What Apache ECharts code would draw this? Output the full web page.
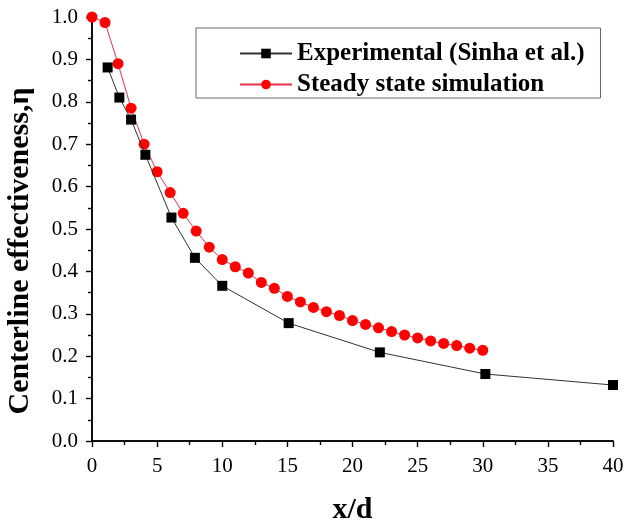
<!DOCTYPE html>
<html>
<head>
<meta charset="utf-8">
<script src="https://cdn.jsdelivr.net/npm/echarts@6/dist/echarts.min.js"></script>
<style>
  html, body { margin: 0; padding: 0; background: #fff; }
  #chart { width: 628px; height: 527px; }
</style>
</head>
<body>
<div id="chart"></div>
<script>
// Experimental data (Sinha et al.)
const expX = [1.2, 2.1, 3.0, 4.1, 6.1, 7.9, 10.0, 15.1, 22.1, 30.2, 40]
const expY = [0.881, 0.810, 0.758, 0.675, 0.527, 0.432, 0.366, 0.278, 0.209, 0.158, 0.132]

// Steady state simulation
const simX = [0, 1, 2, 3, 4, 5, 6, 7, 8, 9, 10, 11, 12, 13, 14, 15, 16, 17, 18, 19, 20, 21, 22, 23, 24, 25, 26, 27, 28, 29, 30]
const simY = [1.0, 0.987, 0.890, 0.785, 0.700, 0.635, 0.586, 0.537, 0.495, 0.457, 0.428, 0.411, 0.396, 0.374, 0.360, 0.341,
              0.328, 0.315, 0.305, 0.296, 0.284, 0.275, 0.267, 0.258, 0.250, 0.243, 0.236, 0.230, 0.225, 0.219, 0.214]

const seriesNames = ['Experimental (Sinha et al.)', 'Steady state simulation']
const font = 'Liberation Serif'

const chart = echarts.init(document.getElementById('chart'))

const axisLine = { show: true, lineStyle: { color: '#000', width: 1.5 } }
const tickStyle = { color: '#000', width: 1.2 }

const option = {
    animation: false,
    backgroundColor: '#fff',
    grid: { left: 92, right: 15, top: 17, bottom: 86, outerBoundsMode: 'none' },
    legend: {
        left: 196,
        top: 28,
        orient: 'vertical',
        itemGap: 6,
        itemWidth: 52,
        itemHeight: 12,
        padding: [13, 16, 1, 43],
        borderColor: '#666',
        borderWidth: 1,
        textStyle: { fontFamily: font, fontWeight: 'bold', fontSize: 25, color: '#000' },
        data: seriesNames
    },
    xAxis: [{
        type: 'value',
        min: 0, max: 40, interval: 5,
        name: 'x/d',
        nameLocation: 'middle',
        nameGap: 54,
        nameTextStyle: { fontFamily: font, fontWeight: 'bold', fontSize: 30, color: '#000' },
        axisLine: axisLine,
        axisTick: { show: true, length: 6, lineStyle: tickStyle },
        minorTick: { show: true, splitNumber: 2, length: 4, lineStyle: tickStyle },
        axisLabel: { fontFamily: font, fontSize: 21, color: '#000', margin: 15 },
        splitLine: { show: false }
    }, {
        type: 'value',
        position: 'top',
        min: 0, max: 40, interval: 5,
        axisLine: axisLine,
        axisTick: { show: true, inside: true, length: 6, lineStyle: tickStyle },
        minorTick: { show: true, splitNumber: 2, length: 4, lineStyle: tickStyle },
        axisLabel: { show: false },
        splitLine: { show: false }
    }],
    yAxis: [{
        type: 'value',
        min: 0, max: 1, interval: 0.1,
        name: 'Centerline effectiveness,η',
        nameLocation: 'middle',
        nameGap: 57,
        nameTextStyle: { fontFamily: font, fontWeight: 'bold', fontSize: 30, color: '#000', padding: [0, 44, 0, 0] },
        axisLine: axisLine,
        axisTick: { show: true, length: 6, lineStyle: tickStyle },
        minorTick: { show: true, splitNumber: 2, length: 4, lineStyle: tickStyle },
        axisLabel: { fontFamily: font, fontSize: 21, color: '#000', margin: 14, formatter: v => v.toFixed(1) },
        splitLine: { show: false }
    }, {
        type: 'value',
        position: 'right',
        min: 0, max: 1, interval: 0.1,
        axisLine: axisLine,
        axisTick: { show: true, inside: true, length: 6, lineStyle: tickStyle },
        minorTick: { show: true, splitNumber: 2, length: 4, lineStyle: tickStyle },
        axisLabel: { show: false },
        splitLine: { show: false }
    }],
    series: [{
        name: seriesNames[0],
        type: 'line',
        data: expX.map((x, i) => [x, expY[i]]),
        symbol: 'rect',
        symbolSize: 10,
        itemStyle: { color: '#000' },
        lineStyle: { color: '#333', width: 1 },
        z: 3
    }, {
        name: seriesNames[1],
        type: 'line',
        data: simX.map((x, i) => [x, simY[i]]),
        symbol: 'circle',
        symbolSize: 11,
        itemStyle: { color: '#ff0000' },
        lineStyle: { color: '#e8304a', width: 1 },
        z: 2
    }]
}

chart.setOption(option)
</script>
</body>
</html>
